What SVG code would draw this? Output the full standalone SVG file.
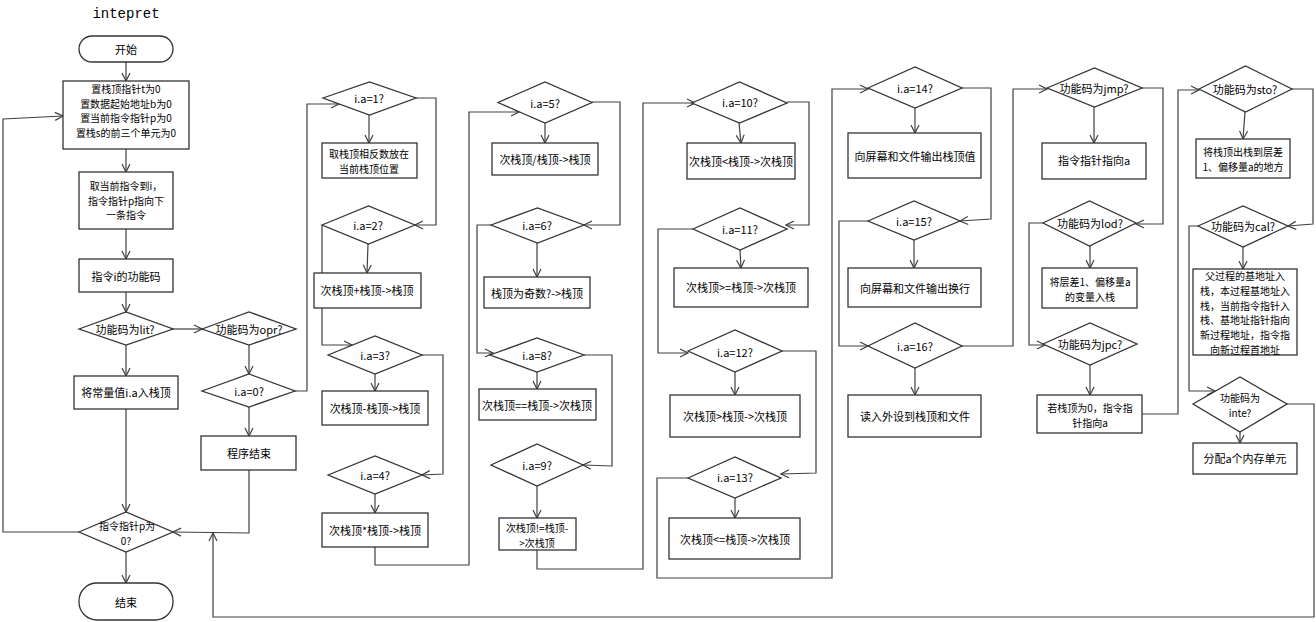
<svg xmlns="http://www.w3.org/2000/svg" width="1316" height="622" viewBox="0 0 1316 622">
<style>
.n rect,.n polygon{fill:#fff;stroke:#333;stroke-width:1.3}
.n text{font-family:"Noto Sans CJK SC","Noto Sans",sans-serif;font-size:11px;fill:#000;text-anchor:middle;dominant-baseline:central}
.n text.m{font-size:10px}
#conn path{fill:none;stroke:#404040;stroke-width:1.2;marker-end:url(#ar)}
.ttl{font-family:"Liberation Mono",monospace;font-size:14px;fill:#000;text-anchor:middle;dominant-baseline:central}
</style>
<defs>
<marker id="ar" markerWidth="10" markerHeight="10" viewBox="0 0 10 10" refX="9" refY="5" orient="auto" markerUnits="userSpaceOnUse">
<path d="M1,1 L9,5 L1,9" fill="none" stroke="#404040" stroke-width="1.2"/>
</marker>
</defs>
<rect width="1316" height="622" fill="#fff"/>
<text class="ttl" x="126" y="14">intepret</text>

<g id="conn">
<path d="M126,62 V81"/>
<path d="M126,149 V172"/>
<path d="M126,229 V259"/>
<path d="M126,292 V312"/>
<path d="M126,345 V376"/>
<path d="M126,409 V512"/>
<path d="M173,329 H202"/>
<path d="M249,345 V374"/>
<path d="M249,407 V436"/>
<path d="M249,470 V533 L173,532"/>
<path d="M126,552 V583"/>
<path d="M79,532 H3 V119 L63,116"/>
<path d="M295,391 H307 V104 H339"/>
<path d="M369,115 V143"/>
<path d="M416,98 H436 V225 H415"/>
<path d="M368,244 L367,273"/>
<path d="M322,225 V345 H352"/>
<path d="M375,374 V391"/>
<path d="M422,355 H443 V474 L422,475"/>
<path d="M375,494 V513"/>
<path d="M375,547 V565 H469 V112 H519"/>
<path d="M545,123 V143"/>
<path d="M592,102 H620 V225 H584"/>
<path d="M537,243 V277"/>
<path d="M491,225 H477 V353 H493"/>
<path d="M537,372 V389"/>
<path d="M584,355 H612 V466 L583,465"/>
<path d="M537,486 V518"/>
<path d="M537,550 V569 H643 V103 H695"/>
<path d="M739,123 L741,143"/>
<path d="M787,102 H809 V225 H786"/>
<path d="M740,250 L741,268"/>
<path d="M693,229 H658 V353 H688"/>
<path d="M735,372 V395"/>
<path d="M782,351 H816 V473 L781,474"/>
<path d="M735,498 V518"/>
<path d="M688,478 H657 V578 H832 V89 H868"/>
<path d="M915,108 V133"/>
<path d="M962,88 H991 V219 L960,221"/>
<path d="M914,240 V268"/>
<path d="M868,221 H839 V346 H868"/>
<path d="M915,368 V395"/>
<path d="M962,346 H1013 V89 H1047"/>
<path d="M1094,107 V143"/>
<path d="M1142,88 H1163 V224 H1136"/>
<path d="M1090,246 V268"/>
<path d="M1043,223 H1029 V345 H1045"/>
<path d="M1090,365 V395"/>
<path d="M1142,414 H1178 V90 H1199"/>
<path d="M1245,112 L1243,139"/>
<path d="M1292,89 H1313 V224 L1288,226"/>
<path d="M1243,247 V269"/>
<path d="M1198,226 H1189 V391 H1215"/>
<path d="M1240,432 V443"/>
<path d="M1268,404 H1314 V617 H213 V533"/>
</g>

<g id="start" class="n"><rect x="79" y="36" width="94" height="26" rx="13"/><text x="126" y="49">开始</text></g>
<g id="init" class="n"><rect x="63" y="81" width="126" height="68"/>
<text class="m" x="126" y="88">置栈顶指针t为0<tspan x="126" dy="14.6">置数据起始地址b为0</tspan><tspan x="126" dy="14.6">置当前指令指针p为0</tspan><tspan x="126" dy="14.6">置栈s的前三个单元为0</tspan></text></g>
<g id="fetch" class="n"><rect x="79" y="172" width="94" height="57"/>
<text class="m" x="126" y="185">取当前指令到i，<tspan x="126" dy="14.6">指令指针p指向下</tspan><tspan x="126" dy="14.6">一条指令</tspan></text></g>
<g id="func" class="n"><rect x="79" y="259" width="94" height="33"/><text x="126" y="276">指令i的功能码</text></g>
<g id="lit" class="n"><polygon points="79,329 126,312 173,329 126,345"/><text x="125" y="329">功能码为lit?</text></g>
<g id="opr" class="n"><polygon points="202,329 249,312 296,329 249,345"/><text x="249" y="329">功能码为opr?</text></g>
<g id="push" class="n"><rect x="74" y="376" width="104" height="33"/><text x="126" y="392">将常量值i.a入栈顶</text></g>
<g id="ia0" class="n"><polygon points="202,391 249,374 295,391 249,407"/><text x="249" y="391">i.a=0?</text></g>
<g id="halt" class="n"><rect x="201" y="436" width="95" height="34"/><text x="249" y="453">程序结束</text></g>
<g id="pzero" class="n"><polygon points="79,532 126,512 173,532 126,552"/><text class="m" x="127" y="525">指令指针p为<tspan x="126" dy="14.6">0?</tspan></text></g>
<g id="end" class="n"><rect x="79" y="583" width="94" height="37" rx="18"/><text x="126" y="602">结束</text></g>

<g id="ia1" class="n"><polygon points="323,98 369.5,82 416,98 369.5,115"/><text x="369" y="98">i.a=1?</text></g>
<g id="neg" class="n"><rect x="322" y="143" width="95" height="35"/><text class="m" x="369" y="153">取栈顶相反数放在<tspan x="369" dy="14.6">当前栈顶位置</tspan></text></g>
<g id="ia2" class="n"><polygon points="322,225 368.5,206 415,225 368.5,244"/><text x="368" y="225">i.a=2?</text></g>
<g id="add" class="n"><rect x="314" y="273" width="107" height="35"/><text x="367" y="290">次栈顶+栈顶-&gt;栈顶</text></g>
<g id="ia3" class="n"><polygon points="328,355 375,336 422,355 375,374"/><text x="375" y="355">i.a=3?</text></g>
<g id="sub" class="n"><rect x="322" y="391" width="106" height="34"/><text x="375" y="408">次栈顶-栈顶-&gt;栈顶</text></g>
<g id="ia4" class="n"><polygon points="328,475 375,456 422,475 375,494"/><text x="375" y="475">i.a=4?</text></g>
<g id="mul" class="n"><rect x="322" y="513" width="106" height="34"/><text x="375" y="530">次栈顶*栈顶-&gt;栈顶</text></g>

<g id="ia5" class="n"><polygon points="498,102.5 545,82 592,102.5 545,123"/><text x="545" y="103">i.a=5?</text></g>
<g id="div" class="n"><rect x="492" y="143" width="106" height="32"/><text x="545" y="159">次栈顶/栈顶-&gt;栈顶</text></g>
<g id="ia6" class="n"><polygon points="491,225 537.5,208 584,225 537.5,243"/><text x="537" y="225">i.a=6?</text></g>
<g id="odd" class="n"><rect x="484" y="277" width="106" height="31"/><text x="537" y="293">栈顶为奇数?-&gt;栈顶</text></g>
<g id="ia8" class="n"><polygon points="490,355 537,338 584,355 537,372"/><text x="537" y="355">i.a=8?</text></g>
<g id="eq" class="n"><rect x="479" y="389" width="117" height="31"/><text x="537" y="405">次栈顶==栈顶-&gt;次栈顶</text></g>
<g id="ia9" class="n"><polygon points="491,465 537,444 583,465 537,486"/><text x="537" y="465">i.a=9?</text></g>
<g id="ne" class="n"><rect x="499" y="518" width="77" height="32"/><text class="m" x="537" y="527">次栈顶!=栈顶-<tspan x="537" dy="14.6">&gt;次栈顶</tspan></text></g>

<g id="ia10" class="n"><polygon points="692,103 739.5,82 787,103 739.5,123"/><text x="740" y="102">i.a=10?</text></g>
<g id="lt" class="n"><rect x="687" y="143" width="108" height="36"/><text x="741" y="161">次栈顶&lt;栈顶-&gt;次栈顶</text></g>
<g id="ia11" class="n"><polygon points="693,229 740,208 787,229 740,250"/><text x="740" y="229">i.a=11?</text></g>
<g id="ge" class="n"><rect x="674" y="268" width="134" height="39"/><text x="741" y="287">次栈顶&gt;=栈顶-&gt;次栈顶</text></g>
<g id="ia12" class="n"><polygon points="688,351 735,330 782,351 735,372"/><text x="735" y="352">i.a=12?</text></g>
<g id="gt" class="n"><rect x="670" y="395" width="130" height="42"/><text x="735" y="416">次栈顶&gt;栈顶-&gt;次栈顶</text></g>
<g id="ia13" class="n"><polygon points="688,478 735,457 781,478 735,498"/><text x="735" y="477">i.a=13?</text></g>
<g id="le" class="n"><rect x="669" y="518" width="131" height="41"/><text x="735" y="539">次栈顶&lt;=栈顶-&gt;次栈顶</text></g>

<g id="ia14" class="n"><polygon points="868,88 915,67 962,88 915,108"/><text x="915" y="88">i.a=14?</text></g>
<g id="out" class="n"><rect x="848" y="133" width="133" height="45"/><text x="915" y="156">向屏幕和文件输出栈顶值</text></g>
<g id="ia15" class="n"><polygon points="868,221 914,201 960,221 914,240"/><text x="914" y="221">i.a=15?</text></g>
<g id="nl" class="n"><rect x="848" y="268" width="133" height="39"/><text x="915" y="288">向屏幕和文件输出换行</text></g>
<g id="ia16" class="n"><polygon points="868,346 915,323 962,346 915,368"/><text x="915" y="346">i.a=16?</text></g>
<g id="rd" class="n"><rect x="848" y="395" width="133" height="42"/><text x="915" y="416">读入外设到栈顶和文件</text></g>

<g id="jmp" class="n"><polygon points="1047,88 1094.5,68 1142,88 1094.5,107"/><text x="1094" y="88">功能码为jmp?</text></g>
<g id="jmpbox" class="n"><rect x="1042" y="143" width="104" height="36"/><text x="1094" y="160">指令指针指向a</text></g>
<g id="lod" class="n"><polygon points="1043,223 1089.5,201 1136,223 1089.5,246"/><text x="1090" y="223">功能码为lod?</text></g>
<g id="lodbox" class="n"><rect x="1042" y="268" width="95" height="40"/><text class="m" x="1090" y="281">将层差1、偏移量a<tspan x="1090" dy="14.6">的变量入栈</tspan></text></g>
<g id="jpc" class="n"><polygon points="1043,344 1090,323 1137,344 1090,365"/><text x="1090" y="344">功能码为jpc?</text></g>
<g id="jpcbox" class="n"><rect x="1037" y="395" width="105" height="38"/><text class="m" x="1090" y="407">若栈顶为0，指令指<tspan x="1090" dy="14.6">针指向a</tspan></text></g>

<g id="sto" class="n"><polygon points="1199,89 1245.5,66 1292,89 1245.5,112"/><text x="1245" y="89">功能码为sto?</text></g>
<g id="stobox" class="n"><rect x="1196" y="139" width="94" height="39"/><text class="m" x="1243" y="151.5">将栈顶出栈到层差<tspan x="1243" dy="14.6">1、偏移量a的地方</tspan></text></g>
<g id="cal" class="n"><polygon points="1198,226 1243,206 1288,226 1243,247"/><text x="1243" y="226">功能码为cal?</text></g>
<g id="calbox" class="n"><rect x="1193" y="269" width="104" height="86"/>
<text class="m" x="1245" y="275.5">父过程的基地址入<tspan x="1245" dy="14.6">栈，本过程基地址入</tspan><tspan x="1245" dy="14.6">栈，当前指令指针入</tspan><tspan x="1245" dy="14.6">栈、基地址指针指向</tspan><tspan x="1245" dy="14.6">新过程地址，指令指</tspan><tspan x="1245" dy="14.6">向新过程首地址</tspan></text></g>
<g id="inte" class="n"><polygon points="1193,404 1240,377 1287,404 1240,432"/><text class="m" x="1240" y="397">功能码为<tspan x="1240" dy="14.6">inte?</tspan></text></g>
<g id="intebox" class="n"><rect x="1193" y="443" width="104" height="31"/><text x="1245" y="458">分配a个内存单元</text></g>
</svg>
